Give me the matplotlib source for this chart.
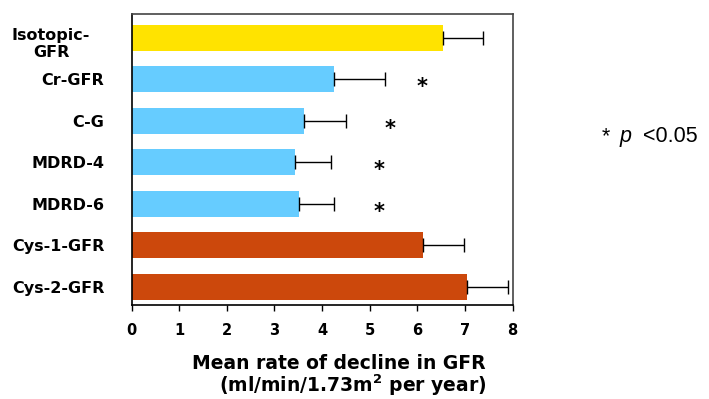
import numpy as np
import matplotlib
matplotlib.use("Agg")
import matplotlib.pyplot as plt

plt.rcParams['font.family'] = 'DejaVu Sans'

# --- data ---
methods = ["Isotopic-\nGFR", "Cr-GFR", "C-G", "MDRD-4", "MDRD-6", "Cys-1-GFR", "Cys-2-GFR"]
decline = [6.54, 4.24, 3.63, 3.43, 3.52, 6.12, 7.04]
sem = [0.84, 1.07, 0.88, 0.75, 0.74, 0.86, 0.87]
groups = ["iso", "cr", "cr", "cr", "cr", "cys", "cys"]

# significance stars (category index, x position)
star_idx = [1, 2, 3, 4]
star_x = [6.09, 5.43, 5.19, 5.19]

colors = {"iso": "#FFE300", "cr": "#66CCFF", "cys": "#CC480C"}

fig = plt.figure(figsize=(7.09, 3.99), dpi=100)
ax = fig.add_axes([0.1855, 0.2348, 0.5376, 0.7301])

y = np.arange(len(methods))
ax.barh(y, decline, height=0.62, color=[colors[g] for g in groups], zorder=2)
ax.errorbar(decline, y, xerr=[np.zeros(len(sem)), sem], fmt='none',
            ecolor='black', elinewidth=1.0, capsize=5, capthick=1.0, zorder=3)

for i, sx in zip(star_idx, star_x):
    ax.text(sx, i + 0.2, "*", ha='center', va='center', fontsize=15,
            fontweight='bold', color='black')

ax.set_xlim(0, 8)
ax.set_ylim(6.45, -0.57)
ax.set_xticks(range(9))
ax.set_xticklabels([str(v) for v in range(9)], fontsize=10.5, fontweight='bold')
ax.set_yticks(y)
# first label is drawn separately as a centred two-line block
ax.set_yticklabels([""] + methods[1:], fontsize=11.5, fontweight='bold')
ax.tick_params(axis='y', length=0, pad=19.5)
ax.tick_params(axis='x', length=4, width=1, direction='out', pad=9)
fig.text(51 / 709, 1 - 28 / 399, methods[0], ha='center', va='top',
         multialignment='center', fontsize=11.5, fontweight='bold',
         linespacing=1.15)

for s in ['left', 'bottom']:
    ax.spines[s].set_color('black')
    ax.spines[s].set_linewidth(1.2)
for s in ['top', 'right']:
    ax.spines[s].set_color('#444444')
    ax.spines[s].set_linewidth(1.2)

fig.text(339 / 709, 1 - 369 / 399, "Mean rate of decline in GFR",
         ha='center', va='baseline', fontsize=13.5, fontweight='bold')
fig.text(353 / 709, 1 - 392 / 399, "(ml/min/1.73m$^{\\mathbf{2}}$ per year)",
         ha='center', va='baseline', fontsize=13.5, fontweight='bold')

fig.text(602 / 709, 1 - 137 / 399, "*", ha='left', va='center',
         fontsize=15.5, family='Liberation Sans')
fig.text(620 / 709, 1 - 137 / 399, "p", ha='left', va='center',
         fontsize=15.5, family='Liberation Sans', style='italic')
fig.text(643 / 709, 1 - 137 / 399, "<0.05", ha='left', va='center',
         fontsize=15.5, family='Liberation Sans')

fig.savefig("out.png", dpi=100)
